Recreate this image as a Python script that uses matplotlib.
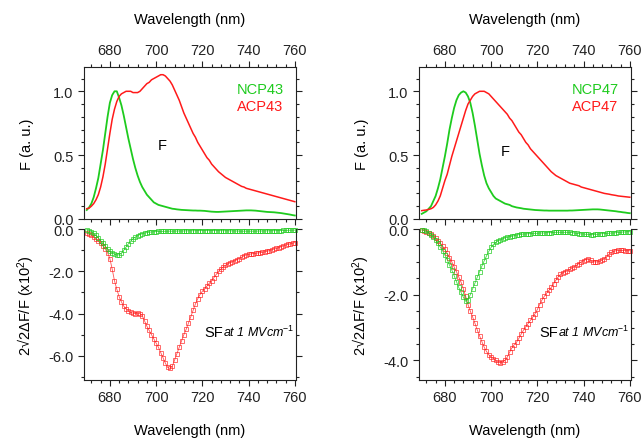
import numpy as np
import matplotlib
matplotlib.use("Agg")
import matplotlib.pyplot as plt
from matplotlib.ticker import MultipleLocator

plt.rcParams['font.family'] = ['Liberation Sans', 'DejaVu Sans']
plt.rcParams['mathtext.fontset'] = 'custom'
plt.rcParams['mathtext.rm'] = 'Liberation Sans'
plt.rcParams['mathtext.it'] = 'Liberation Sans:italic'

# wavelength grid (nm), one point per nm
wavelength = np.arange(670, 761)

# fluorescence spectra F (a. u.)
ncp43_f = [0.07, 0.09, 0.12, 0.17, 0.24, 0.32, 0.43, 0.54, 0.67, 0.80,
           0.91, 0.97, 1.00, 1.00, 0.95, 0.89, 0.81, 0.72, 0.63, 0.55,
           0.47, 0.40, 0.34, 0.29, 0.25, 0.22, 0.19, 0.17, 0.15, 0.13,
           0.12, 0.11, 0.105, 0.10, 0.095, 0.09, 0.085, 0.08, 0.078, 0.075,
           0.073, 0.071, 0.07, 0.069, 0.068, 0.067, 0.066, 0.066, 0.065, 0.065,
           0.064, 0.063, 0.061, 0.059, 0.057, 0.056, 0.055, 0.055, 0.056, 0.057,
           0.058, 0.059, 0.06, 0.061, 0.062, 0.063, 0.064, 0.065, 0.066, 0.067,
           0.067, 0.067, 0.066, 0.065, 0.063, 0.061, 0.059, 0.057, 0.055, 0.054,
           0.053, 0.052, 0.05, 0.048, 0.046, 0.043, 0.04, 0.037, 0.034, 0.03, 0.027]
acp43_f = [0.08, 0.085, 0.10, 0.12, 0.15, 0.19, 0.25, 0.33, 0.43, 0.55,
           0.67, 0.78, 0.86, 0.92, 0.96, 0.98, 0.99, 1.0, 1.0, 1.0,
           0.99, 0.99, 0.99, 1.0, 1.02, 1.04, 1.06, 1.07, 1.09, 1.10,
           1.11, 1.12, 1.13, 1.13, 1.12, 1.10, 1.08, 1.05, 1.01, 0.97,
           0.93, 0.88, 0.83, 0.79, 0.75, 0.71, 0.67, 0.64, 0.60, 0.57,
           0.54, 0.51, 0.48, 0.46, 0.43, 0.41, 0.39, 0.37, 0.355, 0.34,
           0.325, 0.315, 0.305, 0.295, 0.285, 0.275, 0.265, 0.255, 0.25, 0.24,
           0.235, 0.23, 0.225, 0.22, 0.215, 0.21, 0.205, 0.20, 0.195, 0.19,
           0.185, 0.18, 0.175, 0.17, 0.165, 0.16, 0.155, 0.15, 0.145, 0.14, 0.135]
ncp47_f = [0.04, 0.05, 0.06, 0.08, 0.10, 0.14, 0.18, 0.24, 0.31, 0.40,
           0.49, 0.59, 0.70, 0.79, 0.87, 0.93, 0.97, 0.99, 1.0, 0.99,
           0.96, 0.91, 0.83, 0.73, 0.62, 0.51, 0.42, 0.34, 0.28, 0.24,
           0.21, 0.18, 0.16, 0.15, 0.14, 0.13, 0.12, 0.115, 0.11, 0.10,
           0.095, 0.09, 0.087, 0.084, 0.08, 0.078, 0.076, 0.074, 0.072, 0.07,
           0.069, 0.068, 0.067, 0.066, 0.066, 0.065, 0.065, 0.065, 0.065, 0.065,
           0.065, 0.065, 0.065, 0.065, 0.066, 0.066, 0.067, 0.068, 0.069, 0.07,
           0.071, 0.072, 0.073, 0.074, 0.075, 0.075, 0.075, 0.074, 0.072, 0.07,
           0.068, 0.066, 0.064, 0.062, 0.06, 0.057, 0.055, 0.052, 0.05, 0.047, 0.045]
acp47_f = [0.065, 0.068, 0.07, 0.075, 0.08, 0.09, 0.11, 0.14, 0.18, 0.24,
           0.30, 0.35, 0.42, 0.49, 0.55, 0.61, 0.67, 0.73, 0.79, 0.85,
           0.90, 0.93, 0.96, 0.98, 0.99, 1.0, 1.0, 1.0, 0.99, 0.98,
           0.96, 0.94, 0.92, 0.90, 0.88, 0.86, 0.84, 0.82, 0.79, 0.77,
           0.74, 0.71, 0.68, 0.66, 0.63, 0.60, 0.58, 0.55, 0.53, 0.51,
           0.49, 0.47, 0.45, 0.43, 0.41, 0.39, 0.37, 0.355, 0.34, 0.33,
           0.32, 0.31, 0.30, 0.29, 0.28, 0.275, 0.27, 0.265, 0.26, 0.25,
           0.245, 0.24, 0.235, 0.23, 0.225, 0.22, 0.215, 0.21, 0.205, 0.20,
           0.197, 0.194, 0.19, 0.187, 0.184, 0.18, 0.178, 0.176, 0.174, 0.172, 0.17]

# Stark fluorescence spectra, 2*sqrt(2)*dF/F (x10^2)
ncp43_sf = [-0.03, -0.07, -0.12, -0.2, -0.3, -0.42, -0.55, -0.68, -0.82, -0.95,
            -1.05, -1.13, -1.19, -1.23, -1.22, -1.14, -1.0, -0.85, -0.7, -0.57,
            -0.46, -0.38, -0.31, -0.26, -0.22, -0.19, -0.17, -0.15, -0.14, -0.13,
            -0.12, -0.115, -0.11, -0.11, -0.105, -0.10, -0.10, -0.10, -0.095, -0.095,
            -0.09, -0.09, -0.09, -0.085, -0.085, -0.08, -0.08, -0.08, -0.075, -0.075,
            -0.07, -0.07, -0.07, -0.07, -0.072, -0.074, -0.075, -0.076, -0.078, -0.08,
            -0.08, -0.082, -0.085, -0.088, -0.09, -0.092, -0.095, -0.1, -0.1, -0.1,
            -0.1, -0.1, -0.1, -0.098, -0.095, -0.092, -0.09, -0.088, -0.085, -0.082,
            -0.08, -0.078, -0.075, -0.072, -0.07, -0.067, -0.064, -0.06, -0.057, -0.054, -0.05]
acp43_sf = [-0.2, -0.25, -0.3, -0.38, -0.47, -0.57, -0.68, -0.8, -0.95, -1.12,
            -1.4, -1.9, -2.45, -2.85, -3.2, -3.45, -3.65, -3.78, -3.88, -3.95,
            -3.98, -4.0, -3.97, -4.0, -4.1, -4.35, -4.6, -4.8, -5.0, -5.2,
            -5.4, -5.6, -5.85, -6.1, -6.35, -6.55, -6.6, -6.5, -6.2, -5.9,
            -5.6, -5.3, -5.0, -4.75, -4.45, -4.15, -3.85, -3.55, -3.3, -3.1,
            -2.95, -2.82, -2.7, -2.57, -2.44, -2.3, -2.15, -2.0, -1.9, -1.8,
            -1.72, -1.65, -1.6, -1.55, -1.5, -1.45, -1.4, -1.33, -1.27, -1.22,
            -1.2, -1.18, -1.16, -1.15, -1.13, -1.12, -1.1, -1.08, -1.05, -1.02,
            -0.98, -0.95, -0.92, -0.88, -0.84, -0.8, -0.76, -0.73, -0.7, -0.67, -0.64]
ncp47_sf = [-0.02, -0.04, -0.07, -0.11, -0.17, -0.25, -0.34, -0.44, -0.55, -0.66,
            -0.79, -0.93, -1.1, -1.25, -1.42, -1.6, -1.78, -1.93, -2.08, -2.2,
            -2.15, -2.0, -1.82, -1.65, -1.47, -1.3, -1.13, -0.97, -0.82, -0.68,
            -0.56, -0.47, -0.41, -0.36, -0.33, -0.3, -0.27, -0.25, -0.23, -0.22,
            -0.2, -0.18, -0.17, -0.16, -0.15, -0.15, -0.14, -0.14, -0.13, -0.13,
            -0.13, -0.12, -0.12, -0.12, -0.11, -0.11, -0.11, -0.1, -0.1, -0.1,
            -0.1, -0.1, -0.1, -0.1, -0.1, -0.11, -0.12, -0.13, -0.14, -0.15,
            -0.15, -0.16, -0.16, -0.17, -0.17, -0.16, -0.16, -0.15, -0.14, -0.14,
            -0.13, -0.13, -0.12, -0.12, -0.11, -0.1, -0.1, -0.09, -0.09, -0.08, -0.08]
acp47_sf = [-0.03, -0.05, -0.08, -0.11, -0.15, -0.2, -0.27, -0.35, -0.43, -0.52,
            -0.62, -0.74, -0.87, -1.0, -1.15, -1.3, -1.46, -1.62, -1.82, -2.05,
            -2.3, -2.5, -2.68, -2.87, -3.07, -3.25, -3.43, -3.6, -3.73, -3.83,
            -3.9, -3.95, -4.0, -4.05, -4.07, -4.05, -4.0, -3.9, -3.75, -3.62,
            -3.52, -3.45, -3.33, -3.2, -3.08, -2.97, -2.88, -2.78, -2.68, -2.58,
            -2.45, -2.3, -2.16, -2.05, -1.95, -1.87, -1.78, -1.67, -1.56, -1.46,
            -1.38, -1.33, -1.3, -1.27, -1.23, -1.2, -1.15, -1.1, -1.05, -1.0,
            -0.96, -0.93, -0.92, -0.95, -0.99, -1.0, -1.0, -0.98, -0.95, -0.9,
            -0.84, -0.77, -0.71, -0.68, -0.66, -0.65, -0.65, -0.65, -0.66, -0.66, -0.66]

GREEN = '#1ecb1e'
RED = '#ff1a1a'
FS = 10.5


def style_common(ax):
    ax.set_xlim(668.8, 760.3)
    ax.xaxis.set_major_locator(MultipleLocator(20))
    ax.xaxis.set_minor_locator(MultipleLocator(4))
    ax.tick_params(which='both', direction='out', width=0.8, labelsize=FS,
                   left=True, right=True, colors='#222222')
    ax.tick_params(which='major', length=4)
    ax.tick_params(which='minor', length=2.5)
    for s in ax.spines.values():
        s.set_linewidth(0.8)
        s.set_color('#222222')


def draw_pair(left, name_n, name_a, f_n, f_a, sf_n, sf_a, sf_ylim, sf_minor, f_pos):
    ax1 = fig.add_axes([left, 0.499, 0.329, 0.346])
    ax2 = fig.add_axes([left, 0.132, 0.329, 0.344])

    # fluorescence panel
    ax1.plot(wavelength, f_n, color=GREEN, lw=1.3)
    ax1.plot(wavelength, f_a, color=RED, lw=1.1)
    style_common(ax1)
    ax1.set_ylim(0, 1.19)
    ax1.yaxis.set_major_locator(MultipleLocator(0.5))
    ax1.yaxis.set_minor_locator(MultipleLocator(0.1))
    ax1.xaxis.tick_top()
    ax1.tick_params(which='both', bottom=True, top=True)
    ax1.xaxis.set_label_position('top')
    ax1.yaxis.set_major_formatter(matplotlib.ticker.FormatStrFormatter('%.1f'))
    ax1.set_xlabel('Wavelength (nm)', fontsize=FS, labelpad=14)
    ax1.set_ylabel('F (a. u.)', fontsize=FS, labelpad=14)
    ax1.text(0.943, 0.855, name_n, color=GREEN, fontsize=FS, ha='right',
             va='center', transform=ax1.transAxes)
    ax1.text(0.943, 0.743, name_a, color=RED, fontsize=FS, ha='right',
             va='center', transform=ax1.transAxes)
    ax1.text(f_pos[0], f_pos[1], 'F', fontsize=FS, ha='center', va='center',
             transform=ax1.transAxes)

    # Stark fluorescence panel
    mk = dict(marker='s', markersize=3.2, mfc='none', mew=0.6, lw=0.6, clip_on=False)
    ax2.plot(wavelength, sf_a, color=RED, alpha=0.75, **mk)
    ax2.plot(wavelength, sf_n, color=GREEN, alpha=0.8, **mk)
    style_common(ax2)
    ax2.spines['top'].set_visible(False)
    ax2.set_ylim(*sf_ylim)
    ax2.yaxis.set_major_locator(MultipleLocator(2))
    ax2.yaxis.set_minor_locator(MultipleLocator(sf_minor))
    ax2.yaxis.set_major_formatter(matplotlib.ticker.FormatStrFormatter('%.1f'))
    ax2.tick_params(which='both', top=False, bottom=True)
    ax2.set_xlabel('Wavelength (nm)', fontsize=FS, labelpad=13)
    ax2.set_ylabel('2\u221a2\u0394F/F (x10$^2$)', fontsize=FS, labelpad=8)
    sf = ax2.text(0.57, 0.29, 'SF', fontsize=FS, ha='left', va='baseline',
                  transform=ax2.transAxes)
    ax2.annotate('at 1 MVcm$^{-1}$', xy=(1, 0), xycoords=sf, fontsize=9,
                 style='italic', ha='left', va='bottom')
    return ax1, ax2


fig = plt.figure(figsize=(6.43, 4.39), dpi=100)

draw_pair(0.1306, 'NCP43', 'ACP43', ncp43_f, acp43_f, ncp43_sf, acp43_sf,
          (-7.15, 0), 1, (0.368, 0.49))
draw_pair(0.6516, 'NCP47', 'ACP47', ncp47_f, acp47_f, ncp47_sf, acp47_sf,
          (-4.6, 0), 0.5, (0.408, 0.45))

fig.savefig('out.png', dpi=100)
